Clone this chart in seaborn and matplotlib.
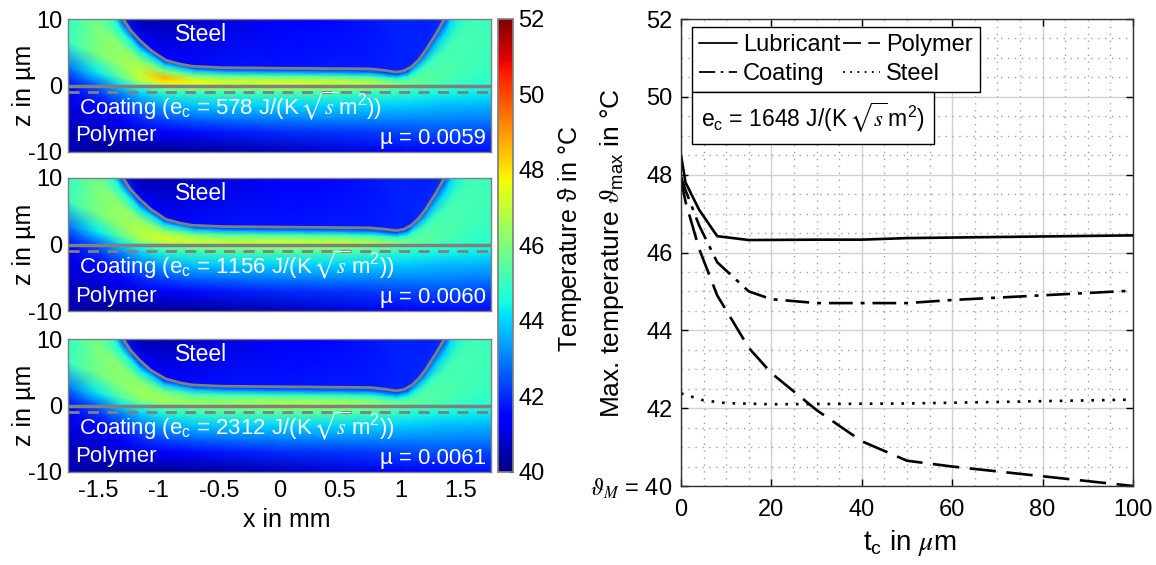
import numpy as np
import matplotlib
matplotlib.use("Agg")
import matplotlib.pyplot as plt
import seaborn as sns

sns.set_theme(style="white")
plt.rcParams["font.family"] = ["Liberation Sans", "DejaVu Sans"]
plt.rcParams["mathtext.fontset"] = "stix"
plt.rcParams["mathtext.default"] = "regular"
plt.rcParams["axes.unicode_minus"] = False

# right panel, max. temperature over coating thickness
tc_lub = [0, 1, 4, 8, 15, 30, 40, 50, 100]
lubricant = [48.5, 47.8, 47.1, 46.42, 46.32, 46.33, 46.33, 46.37, 46.44]
tc_coat = [0, 1, 4, 8, 15, 20, 30, 50, 60, 80, 100]
coating = [47.95, 47.6, 46.7, 45.75, 45.0, 44.8, 44.7, 44.7, 44.78, 44.9, 45.02]
tc_poly = [0, 1, 4, 8, 15, 20, 30, 40, 50, 60, 80, 100]
polymer = [47.9, 47.3, 46.1, 44.9, 43.55, 42.9, 41.95, 41.15, 40.65, 40.5, 40.25, 40.0]
tc_steel = [0, 5, 10, 20, 50, 100]
steel = [42.38, 42.2, 42.13, 42.1, 42.12, 42.22]

# left panels, read along the columns x_mm
x_mm = [-1.75, -1.5, -1.3, -1.15, -0.95, -0.7, -0.4, 0, 0.4, 0.75, 0.97, 1.06, 1.2, 1.37, 1.55, 1.75]
surface_1 = [22, 16, 10, 6.7, 3.9, 2.9, 2.65, 2.6, 2.55, 2.5, 2.0, 2.5, 5.2, 10, 16, 22]
surface_2 = [22, 16, 10, 6.7, 3.9, 2.9, 2.65, 2.6, 2.55, 2.5, 2.1, 2.6, 5.2, 10, 16, 22]
surface_3 = [22, 16, 10, 6.7, 4.0, 3.1, 2.9, 2.8, 2.75, 2.7, 2.2, 2.7, 5.3, 10, 16, 22]
z_polymer = [-10, -7, -5, -3, -1, 0]
gap_share = [0.12, 0.3, 0.55, 0.8, 1.0]

# steel outline, read finer than the field
line_x = [-1.295, -1.233, -1.156, -1.064, -0.941, -0.818, -0.726, -0.48, 0.136, 0.75, 0.874, 0.966, 1.03, 1.09, 1.15, 1.21, 1.29, 1.365]
line_1 = [10, 8.3, 6.8, 5.3, 3.8, 3.2, 2.9, 2.68, 2.58, 2.5, 2.27, 2.0, 2.2, 2.8, 3.8, 5.3, 7.6, 10]
line_2 = [10, 8.3, 6.8, 5.3, 3.8, 3.2, 2.9, 2.7, 2.6, 2.5, 2.3, 2.1, 2.3, 2.9, 3.9, 5.3, 7.6, 10]
line_3 = [10, 8.3, 6.8, 5.3, 4.0, 3.4, 3.1, 2.9, 2.8, 2.7, 2.45, 2.2, 2.4, 3.0, 4.0, 5.4, 7.7, 10]

field_1 = [
    [40.6, 40.3, 40.2, 40.2, 40.2, 40.3, 40.4, 40.6, 40.9, 41.1, 41.2, 41.3, 41.4, 41.5, 41.6, 41.6],
    [40.6, 40.7, 40.9, 41.1, 41.4, 41.6, 41.8, 42.0, 42.1, 42.2, 42.3, 42.3, 42.4, 42.4, 42.4, 42.3],
    [40.8, 41.0, 41.5, 42.0, 42.4, 42.7, 42.9, 43.0, 43.1, 43.1, 43.1, 43.1, 43.1, 43.1, 43.0, 43.0],
    [41.0, 41.5, 42.2, 42.9, 43.5, 43.8, 43.9, 44.0, 44.0, 44.0, 43.9, 43.9, 43.8, 43.7, 43.7, 43.6],
    [41.2, 42.2, 43.2, 44.1, 44.9, 45.1, 45.2, 45.3, 45.3, 45.1, 44.9, 44.8, 44.6, 44.5, 44.4, 44.3],
    [41.5, 42.6, 44.2, 45.5, 46.6, 47.0, 47.0, 47.3, 47.2, 46.8, 46.2, 45.9, 45.4, 45.1, 44.9, 44.7],
    [42.8, 44.3, 45.6, 47.0, 47.9, 47.6, 47.2, 47.2, 47.1, 46.8, 46.2, 45.8, 45.5, 45.3, 45.1, 45.0],
    [45.0, 46.0, 46.4, 47.0, 48.6, 47.2, 46.9, 46.9, 46.8, 46.4, 45.7, 45.5, 45.4, 45.3, 45.2, 45.1],
    [44.9, 46.0, 46.3, 46.2, 46.0, 45.6, 45.5, 45.4, 45.3, 45.0, 44.5, 44.5, 45.0, 45.1, 45.2, 45.1],
    [44.6, 45.0, 44.6, 44.2, 44.0, 43.6, 43.4, 43.3, 43.2, 43.0, 42.8, 42.9, 43.5, 44.0, 44.6, 44.8],
    [44.5, 44.4, 42.0, 41.4, 41.5, 41.6, 41.7, 41.7, 41.8, 41.8, 41.9, 41.9, 42.0, 42.2, 44.2, 44.5],
    [44.5, 44.4, 40.4, 40.4, 40.5, 40.8, 41.0, 41.3, 41.5, 41.7, 41.9, 41.9, 41.8, 41.8, 44.2, 44.5],
]
field_2 = [
    [40.6, 40.3, 40.2, 40.2, 40.2, 40.3, 40.4, 40.6, 40.9, 41.1, 41.2, 41.3, 41.4, 41.5, 41.6, 41.6],
    [40.6, 40.7, 40.9, 41.1, 41.4, 41.6, 41.8, 42.0, 42.1, 42.2, 42.3, 42.3, 42.4, 42.4, 42.4, 42.3],
    [40.8, 41.0, 41.5, 42.0, 42.4, 42.7, 42.9, 43.0, 43.1, 43.1, 43.1, 43.1, 43.1, 43.1, 43.0, 43.0],
    [41.0, 41.5, 42.2, 42.9, 43.5, 43.8, 43.9, 44.0, 44.0, 44.0, 43.9, 43.9, 43.8, 43.7, 43.7, 43.6],
    [41.2, 42.2, 43.2, 44.1, 44.9, 45.1, 45.3, 45.4, 45.4, 45.2, 44.9, 44.8, 44.6, 44.5, 44.4, 44.3],
    [41.5, 42.6, 44.2, 45.3, 46.3, 46.6, 46.8, 47.0, 46.9, 46.6, 46.0, 45.7, 45.3, 45.1, 44.9, 44.7],
    [42.8, 44.3, 45.6, 46.6, 47.1, 47.0, 46.9, 47.0, 46.9, 46.6, 46.0, 45.7, 45.5, 45.3, 45.1, 45.0],
    [45.0, 46.0, 46.4, 46.8, 47.2, 46.8, 46.6, 46.6, 46.5, 46.2, 45.6, 45.5, 45.4, 45.3, 45.2, 45.1],
    [44.9, 46.0, 46.3, 46.2, 45.9, 45.5, 45.4, 45.3, 45.2, 44.9, 44.5, 44.5, 45.0, 45.1, 45.2, 45.1],
    [44.6, 45.0, 44.6, 44.2, 44.0, 43.6, 43.4, 43.3, 43.2, 43.0, 42.8, 42.9, 43.5, 44.0, 44.6, 44.8],
    [44.5, 44.4, 42.0, 41.4, 41.5, 41.6, 41.7, 41.7, 41.8, 41.8, 41.9, 41.9, 42.0, 42.2, 44.2, 44.5],
    [44.5, 44.4, 40.4, 40.4, 40.5, 40.8, 41.0, 41.3, 41.5, 41.7, 41.9, 41.9, 41.8, 41.8, 44.2, 44.5],
]
field_3 = [
    [40.6, 40.3, 40.2, 40.2, 40.2, 40.3, 40.4, 40.6, 40.9, 41.1, 41.2, 41.3, 41.4, 41.5, 41.6, 41.6],
    [40.6, 40.7, 40.9, 41.1, 41.4, 41.6, 41.8, 42.0, 42.1, 42.2, 42.3, 42.3, 42.4, 42.4, 42.4, 42.3],
    [40.8, 41.0, 41.5, 42.0, 42.4, 42.7, 42.9, 43.0, 43.1, 43.1, 43.1, 43.1, 43.1, 43.1, 43.0, 43.0],
    [41.0, 41.5, 42.2, 42.9, 43.5, 43.8, 43.9, 44.0, 44.0, 44.0, 43.9, 43.9, 43.8, 43.7, 43.7, 43.6],
    [41.2, 42.2, 43.2, 44.1, 44.8, 45.1, 45.3, 45.5, 45.5, 45.3, 45.0, 44.8, 44.6, 44.5, 44.4, 44.3],
    [41.5, 42.6, 44.2, 45.1, 45.8, 46.1, 46.3, 46.7, 46.6, 46.3, 45.8, 45.6, 45.3, 45.1, 44.9, 44.7],
    [42.8, 44.3, 45.4, 46.1, 46.4, 46.2, 46.3, 46.7, 46.6, 46.3, 45.8, 45.6, 45.4, 45.3, 45.1, 45.0],
    [45.0, 45.9, 46.2, 46.5, 46.5, 46.1, 46.1, 46.2, 46.1, 45.9, 45.4, 45.4, 45.4, 45.3, 45.2, 45.1],
    [44.9, 46.0, 46.2, 46.0, 45.6, 45.2, 45.1, 45.1, 45.0, 44.8, 44.4, 44.4, 44.9, 45.1, 45.2, 45.1],
    [44.6, 45.0, 44.6, 44.2, 43.8, 43.5, 43.3, 43.2, 43.1, 43.0, 42.8, 42.9, 43.5, 44.0, 44.6, 44.8],
    [44.5, 44.4, 42.0, 41.4, 41.5, 41.6, 41.7, 41.7, 41.8, 41.8, 41.9, 41.9, 42.0, 42.2, 44.2, 44.5],
    [44.5, 44.4, 40.4, 40.4, 40.5, 40.8, 41.0, 41.3, 41.5, 41.7, 41.9, 41.9, 41.8, 41.8, 44.2, 44.5],
]
surfaces = [surface_1, surface_2, surface_3]
lines = [line_1, line_2, line_3]
fields = [field_1, field_2, field_3]
effusivity = ["578", "1156", "2312"]
friction = ["0.0059", "0.0060", "0.0061"]

W, H = 1156, 565
FS = 17
GREY = "#808080"
cmap = matplotlib.colormaps["jet"]


def px_axes(left, top, right, bottom):
    return fig.add_axes([left / W, 1 - bottom / H, (right - left) / W, (bottom - top) / H])


fig = plt.figure(figsize=(W / 100, H / 100), dpi=100)

panel_tops = [19, 178, 339]
text_z = [(-3.0, -7.5), (-3.0, -7.8), (-3.0, -7.6)]
for i, top in enumerate(panel_tops):
    ax = px_axes(68, top, 491, top + 133)
    surf = np.array(surfaces[i], dtype=float)
    n = len(x_mm)
    rows = [np.full(n, z, dtype=float) for z in z_polymer]
    rows += [surf * s for s in gap_share]
    rows.append(np.maximum(surf + 1, 10.5))
    Z = np.array(rows)
    X = np.tile(x_mm, (Z.shape[0], 1))
    mesh = ax.pcolormesh(X, Z, np.array(fields[i]), cmap=cmap, vmin=40, vmax=52,
                         shading="gouraud", rasterized=True)
    ax.plot(line_x, lines[i], color=GREY, lw=2)
    ax.axhline(0, color=GREY, lw=2.5)
    ax.axhline(-1, color=GREY, lw=2, dashes=(4, 3))
    ax.set_xlim(-1.75, 1.75)
    ax.set_ylim(-10, 10)
    ax.set_yticks([-10, 0, 10])
    ax.set_ylabel("z in µm", fontsize=FS + 1, color="black", va="center")
    ax.yaxis.set_label_coords(-0.104, 0.5)
    ax.tick_params(labelsize=FS, labelcolor="black", pad=4, length=0)
    for sp in ax.spines.values():
        sp.set_edgecolor(GREY)
        sp.set_linewidth(1)
    ax.text(-0.65, 7.7, "Steel", color="white", fontsize=16.5, ha="center", va="center")
    ax.text(-1.66, text_z[i][0],
            "Coating (e$_{c}$ = " + effusivity[i] + r" J/(K$\,\sqrt{\mathit{s}}\,$m$^{2}$))",
            color="white", fontsize=16, ha="left", va="center")
    ax.text(-1.69, text_z[i][1], "Polymer", color="white", fontsize=16, ha="left", va="center")
    ax.text(1.71, -8, "µ = " + friction[i], color="white", fontsize=16, ha="right", va="center")
    if i < 2:
        ax.set_xticks([])
    else:
        ax.set_xticks([-1.5, -1, -0.5, 0, 0.5, 1, 1.5])
        ax.set_xticklabels(["-1.5", "-1", "-0.5", "0", "0.5", "1", "1.5"])
        ax.tick_params(axis="x", pad=6)
        ax.set_xlabel("x in mm", fontsize=FS + 1, color="black", va="center")
        ax.xaxis.set_label_coords(0.518, -0.36)

cax = px_axes(498, 19, 513, 472)
cb = fig.colorbar(mesh, cax=cax, ticks=[40, 42, 44, 46, 48, 50, 52])
cb.ax.tick_params(labelsize=FS, labelcolor="black", length=3, width=0.8, direction="in", pad=4, color="black")
cb.outline.set_edgecolor(GREY)
cb.set_label(r"Temperature $\vartheta$ in °C", fontsize=FS + 1, color="black", va="center")
cb.ax.yaxis.set_label_coords(4.8, 0.514)

# right panel
ax2 = px_axes(681, 19, 1133, 486)
sns.lineplot(x=tc_lub, y=lubricant, color="black", lw=1.9, label="Lubricant", ax=ax2)
sns.lineplot(x=tc_poly, y=polymer, color="black", lw=1.9, linestyle=(0, (10, 4)), label="Polymer", ax=ax2)
sns.lineplot(x=tc_coat, y=coating, color="black", lw=1.9, linestyle=(0, (9, 3, 1.5, 3)), label="Coating", ax=ax2)
sns.lineplot(x=tc_steel, y=steel, color="black", lw=1.9, linestyle=(0, (1, 3)), label="Steel", ax=ax2)
ax2.set_xlim(0, 100)
ax2.set_ylim(40, 52)
ax2.set_xticks(range(0, 101, 20))
ax2.set_yticks(range(40, 53, 2))
ax2.set_yticklabels([r"$\mathit{\vartheta_M}$ = 40", "42", "44", "46", "48", "50", "52"])
ax2.set_xticks(np.arange(0, 101, 5), minor=True)
ax2.set_yticks(np.arange(40, 52.1, 0.5), minor=True)
ax2.grid(True, which="major", color="#d0d0d0", lw=1)
ax2.grid(True, which="minor", color="#a0a0a0", lw=1, linestyle=(0, (1, 4)))
ax2.set_axisbelow(True)
ax2.tick_params(which="major", labelsize=FS, labelcolor="black", direction="in", length=5, width=1,
                color="black", top=True, right=True, left=True, bottom=True)
ax2.tick_params(axis="x", which="major", pad=9)
ax2.tick_params(axis="y", which="major", pad=6)
ax2.tick_params(which="minor", length=0)
for sp in ax2.spines.values():
    sp.set_edgecolor("#303030")
    sp.set_linewidth(1)
ax2.set_xlabel(r"t$_{c}$ in $\mathit{\mu}$m", fontsize=FS + 3, color="black", va="center")
ax2.xaxis.set_label_coords(0.505, -0.122)
ax2.set_ylabel(r"Max. temperature $\mathit{\vartheta}_{max}$ in °C", fontsize=FS + 2, color="black", va="center")
ax2.yaxis.set_label_coords(-0.153, 0.5)

h, l = ax2.get_legend_handles_labels()
order = [0, 2, 1, 3]
leg = ax2.legend([h[k] for k in order], [l[k] for k in order], ncol=2, fontsize=FS,
                 loc="upper left", bbox_to_anchor=(11 / 452, 1 - 8 / 467), borderaxespad=0,
                 fancybox=False, framealpha=1, edgecolor="black", columnspacing=0.1,
                 handlelength=1.6, handletextpad=0.25, labelspacing=0.3, borderpad=0.3)
leg.get_frame().set_linewidth(1)
for t in leg.get_texts():
    t.set_color("black")
for hl in leg.get_lines():
    hl.set_linewidth(1.3)
ax2.text(4.4, 49.45, r"e$_{c}$ = 1648 J/(K$\,\sqrt{\mathit{s}}\,$m$^{2}$)", fontsize=16.5, color="black",
         ha="left", va="center", zorder=6,
         bbox=dict(boxstyle="square,pad=0.38", fc="white", ec="black", lw=1))

fig.savefig("out.png", dpi=100)
